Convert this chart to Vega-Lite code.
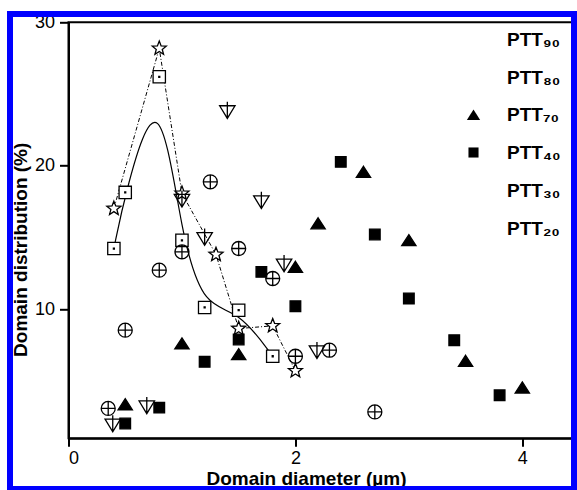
{
  "$schema": "https://vega.github.io/schema/vega-lite/v6.json",
  "width": 506,
  "height": 416,
  "autosize": {"type": "none"},
  "padding": {"left": 68.5, "top": 22.3, "right": 2.5, "bottom": 51.7},
  "background": "white",
  "config": {
    "font": "Liberation Sans",
    "view": {"stroke": "black", "strokeWidth": 2},
    "axis": {
      "grid": false,
      "domainColor": "black",
      "domainWidth": 2,
      "tickColor": "black",
      "tickWidth": 2,
      "labelColor": "black",
      "labelFont": "Liberation Sans",
      "labelFontSize": 18,
      "titleColor": "black",
      "titleFont": "Liberation Sans",
      "titleFontSize": 19,
      "titleFontWeight": "bold"
    },
    "legend": {
      "title": null,
      "orient": "none",
      "legendX": 395.5,
      "legendY": 8.2,
      "padding": 0,
      "rowPadding": 17.5,
      "labelOffset": 24,
      "symbolSize": 196,
      "symbolStrokeWidth": 1.3,
      "symbolStrokeColor": "black",
      "symbolOpacity": 1,
      "labelFont": "Liberation Sans",
      "labelFontSize": 19,
      "labelFontWeight": "bold",
      "labelColor": "black"
    }
  },
  "data": {
    "values": [
      {"s": "PTT90", "x": 0.4, "y": 14.23},
      {"s": "PTT90", "x": 0.5, "y": 18.14},
      {"s": "PTT90", "x": 0.8, "y": 26.2},
      {"s": "PTT90", "x": 1.0, "y": 14.8},
      {"s": "PTT90", "x": 1.2, "y": 10.12},
      {"s": "PTT90", "x": 1.5, "y": 9.93},
      {"s": "PTT90", "x": 1.8, "y": 6.72},
      {"s": "PTT20", "x": 0.4, "y": 17.02},
      {"s": "PTT20", "x": 0.8, "y": 28.18},
      {"s": "PTT20", "x": 1.0, "y": 18.07},
      {"s": "PTT20", "x": 1.3, "y": 13.81},
      {"s": "PTT20", "x": 1.5, "y": 8.65},
      {"s": "PTT20", "x": 1.8, "y": 8.84},
      {"s": "PTT20", "x": 2.0, "y": 5.7},
      {"s": "PTT40", "x": 0.5, "y": 2.03},
      {"s": "PTT40", "x": 0.8, "y": 3.14},
      {"s": "PTT40", "x": 1.2, "y": 6.33},
      {"s": "PTT40", "x": 1.5, "y": 7.89},
      {"s": "PTT40", "x": 1.7, "y": 12.6},
      {"s": "PTT40", "x": 2.0, "y": 10.21},
      {"s": "PTT40", "x": 2.4, "y": 20.27},
      {"s": "PTT40", "x": 2.7, "y": 15.21},
      {"s": "PTT40", "x": 3.0, "y": 10.75},
      {"s": "PTT40", "x": 3.4, "y": 7.84},
      {"s": "PTT40", "x": 3.8, "y": 4.0},
      {"s": "PTT70", "x": 0.5, "y": 3.37},
      {"s": "PTT70", "x": 1.0, "y": 7.61},
      {"s": "PTT70", "x": 1.5, "y": 6.86},
      {"s": "PTT70", "x": 2.0, "y": 12.95},
      {"s": "PTT70", "x": 2.2, "y": 15.98},
      {"s": "PTT70", "x": 2.6, "y": 19.57},
      {"s": "PTT70", "x": 3.0, "y": 14.81},
      {"s": "PTT70", "x": 3.5, "y": 6.4},
      {"s": "PTT70", "x": 4.0, "y": 4.54},
      {"s": "PTT80", "x": 0.35, "y": 3.08},
      {"s": "PTT80", "x": 0.5, "y": 8.54},
      {"s": "PTT80", "x": 0.8, "y": 12.72},
      {"s": "PTT80", "x": 1.0, "y": 14.0},
      {"s": "PTT80", "x": 1.25, "y": 18.88},
      {"s": "PTT80", "x": 1.5, "y": 14.23},
      {"s": "PTT80", "x": 1.8, "y": 12.14},
      {"s": "PTT80", "x": 2.0, "y": 6.72},
      {"s": "PTT80", "x": 2.3, "y": 7.14},
      {"s": "PTT80", "x": 2.7, "y": 2.84},
      {"s": "PTT30", "x": 0.39, "y": 2.03},
      {"s": "PTT30", "x": 0.69, "y": 3.3},
      {"s": "PTT30", "x": 1.0, "y": 17.7},
      {"s": "PTT30", "x": 1.2, "y": 15.04},
      {"s": "PTT30", "x": 1.4, "y": 23.88},
      {"s": "PTT30", "x": 1.7, "y": 17.6},
      {"s": "PTT30", "x": 1.9, "y": 13.19},
      {"s": "PTT30", "x": 2.19, "y": 7.14}
    ]
  },
  "encoding": {
    "x": {
      "field": "x",
      "type": "quantitative",
      "scale": {"domain": [0, 4.46], "nice": false, "zero": false},
      "axis": {
        "values": [0, 2, 4],
        "title": "Domain diameter (µm)",
        "tickSize": 8,
        "labelPadding": 3,
        "titleX": 237.5,
        "titleY": 46,
        "titleBaseline": "alphabetic"
      }
    },
    "y": {
      "field": "y",
      "type": "quantitative",
      "scale": {"domain": [1, 30], "nice": false, "zero": false},
      "axis": {
        "values": [10, 20, 30],
        "title": "Domain distribution (%)",
        "tickSize": 9,
        "labelPadding": 5,
        "titleX": -42.3,
        "titleY": 227,
        "titleBaseline": "alphabetic",
        "titleAngle": -90
      }
    }
  },
  "resolve": {
    "scale": {"shape": "independent", "fill": "independent"},
    "legend": {"shape": "independent", "fill": "independent"}
  },
  "layer": [
    {
      "mark": {"type": "rect", "clip": false, "fill": null, "fillOpacity": 0, "stroke": "#0000ff", "strokeWidth": 5},
      "encoding": {
        "x": {"datum": -0.518},
        "x2": {"datum": 4.459},
        "y": {"datum": 30.57},
        "y2": {"datum": -2.52}
      }
    },
    {
      "transform": [{"filter": "datum.s === 'PTT90'"}],
      "mark": {"type": "line", "interpolate": "basis", "color": "black", "strokeWidth": 1.2}
    },
    {
      "transform": [{"filter": "datum.s === 'PTT20'"}],
      "mark": {"type": "line", "color": "black", "strokeWidth": 1, "strokeDash": [4, 2, 1, 2]}
    },
    {
      "mark": {"type": "point", "filled": true, "size": 196, "stroke": "black", "strokeWidth": 1.3, "opacity": 1},
      "encoding": {
        "shape": {
          "field": "s",
          "type": "nominal",
          "legend": null,
          "scale": {
            "domain": ["PTT90", "PTT80", "PTT70", "PTT40", "PTT30", "PTT20"],
            "range": [
              "M-0.88,-0.88H0.88V0.88H-0.88ZM-0.07,-0.07H0.07V0.07H-0.07Z",
              "M-1,0A1,1 0 1,0 1,0A1,1 0 1,0 -1,0ZM-1,0H1M0,-1V1",
              "M0,-0.8L1.02,0.78L-1.02,0.78Z",
              "M-0.76,-0.76H0.76V0.76H-0.76Z",
              "M-1.1,-0.62H1.1L0,1.19ZM0,-1.19V1.19",
              "M0,-1.05L0.265,-0.364L0.999,-0.324L0.428,0.139L0.617,0.849L0,0.45L-0.617,0.849L-0.428,0.139L-0.999,-0.324L-0.265,-0.364Z"
            ]
          }
        },
        "fill": {
          "field": "s",
          "type": "nominal",
          "legend": null,
          "scale": {
            "domain": ["PTT90", "PTT80", "PTT70", "PTT40", "PTT30", "PTT20"],
            "range": ["white", "transparent", "black", "black", "transparent", "white"]
          }
        }
      }
    },
    {
      "transform": [{"filter": "false"}],
      "mark": {"type": "point", "filled": true, "size": 196, "stroke": "black", "strokeWidth": 1.3, "opacity": 1},
      "encoding": {
        "shape": {
          "field": "s",
          "type": "nominal",
          "scale": {
            "domain": ["PTT90", "PTT80", "PTT70", "PTT40", "PTT30", "PTT20"],
            "range": [
              "M-3.8,0H-0.72M0.72,0H3.8M-0.72,-0.72H0.72V0.72H-0.72ZM-0.07,-0.07H0.07V0.07H-0.07Z",
              "M-0.78,0A0.78,0.78 0 1,0 0.78,0A0.78,0.78 0 1,0 -0.78,0ZM-0.78,0H0.78M0,-0.78V0.78",
              "M0,-0.78L0.95,0.7L-0.95,0.7Z",
              "M-0.72,-0.72H0.72V0.72H-0.72Z",
              "M-0.93,-0.5H0.93L0,1.0ZM0,-1.0V1.0",
              "M0.9,0H1.45M1.7,0H1.85M2.1,0H2.65M2.9,0H3.05M3.3,0H3.85M-0.9,0H-1.45M-1.7,0H-1.85M-2.1,0H-2.65M-2.9,0H-3.05M-3.3,0H-3.85M0,-0.8L0.2,-0.275L0.761,-0.247L0.323,0.105L0.47,0.647L0,0.34L-0.47,0.647L-0.323,0.105L-0.761,-0.247L-0.2,-0.275Z"
            ]
          },
          "legend": {
            "labelExpr": "datum.label === 'PTT90' ? 'PTT₉₀' : datum.label === 'PTT80' ? 'PTT₈₀' : datum.label === 'PTT70' ? 'PTT₇₀' : datum.label === 'PTT40' ? 'PTT₄₀' : datum.label === 'PTT30' ? 'PTT₃₀' : 'PTT₂₀'",
            "encode": {
              "symbols": {
                "stroke": {"value": "black"}
              }
            }
          }
        },
        "fill": {
          "field": "s",
          "type": "nominal",
          "scale": {
            "domain": ["PTT90", "PTT80", "PTT70", "PTT40", "PTT30", "PTT20"],
            "range": ["white", "white", "black", "black", "white", "white"]
          },
          "legend": {
            "labelExpr": "datum.label === 'PTT90' ? 'PTT₉₀' : datum.label === 'PTT80' ? 'PTT₈₀' : datum.label === 'PTT70' ? 'PTT₇₀' : datum.label === 'PTT40' ? 'PTT₄₀' : datum.label === 'PTT30' ? 'PTT₃₀' : 'PTT₂₀'"
          }
        }
      }
    }
  ]
}
